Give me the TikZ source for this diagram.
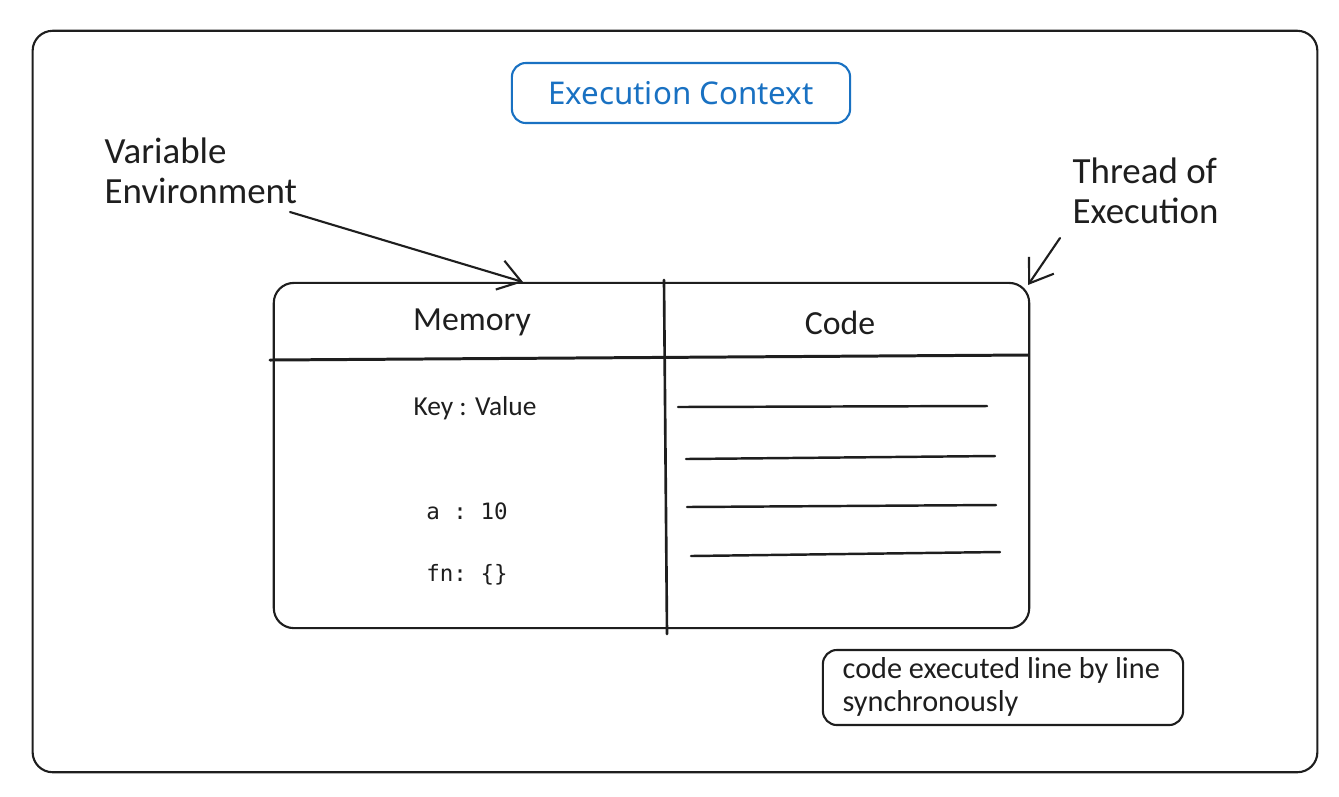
\documentclass[tikz,border=0pt]{standalone}
\usepackage{fontspec}
\setmainfont{Carlito}
\setmonofont{DejaVu Sans Mono}
\newfontfamily\titlefont{Noto Sans}
\usepackage{xcolor}
\usepackage{tikz}
\usetikzlibrary{arrows.meta,positioning}
\definecolor{ink}{HTML}{1E1E1E}
\definecolor{ecblue}{HTML}{1971C2}

\begin{document}
\begin{tikzpicture}[
    x=0.01cm, y=-0.01cm,
    line join=round, line cap=round,
    frame/.style={rectangle, draw=ink, line width=0.6pt, rounded corners=0.2cm},
    titlebox/.style={rectangle, draw=ecblue, text=ecblue, line width=0.6pt, rounded corners=0.14cm, minimum width=3.38cm, minimum height=0.6cm, font=\titlefont\fontsize{8.9}{10}\selectfont},
    note/.style={align=left, anchor=north west, inner sep=0pt, text=ink, font=\fontsize{10.5}{11.4}\selectfont},
    head/.style={text=ink, font=\fontsize{9.6}{11}\selectfont},
    entry/.style={text=ink, font=\fontsize{7.8}{9}\selectfont},
    mono/.style={text=ink, font=\ttfamily\fontsize{6.4}{8}\selectfont},
    rule/.style={draw=ink, line width=0.75pt},
    codeline/.style={draw=ink, line width=0.7pt},
    arrow/.style={-{Straight Barb[length=2.2mm, width=3mm]}, draw=ink, line width=0.6pt}
]
\useasboundingbox (0,0) rectangle (1339,796);

% outer frame and title
\node[frame, minimum width=12.84cm, minimum height=7.41cm] (frame) at (675,401.5) {};
\node[titlebox] (title) at (681,93) {Execution Context};

% memory / code table
\node[frame, minimum width=7.55cm, minimum height=3.45cm] (table) at (651.5,455.5) {};
\draw[rule] (664,280) -- (667,634);
\draw[rule, line width=0.85pt] (270,360) -- (1028,355);

\node[head] (memory) at (472,322) {Memory};
\node[head] (code) at (840,323) {Code};

\node[entry] (keyval) at (475,408) {Key : Value};
\node[mono] (aval) at (467,511) {a : 10};
\node[mono] (fnval) at (467,575) {fn: \{\}};

\foreach \xa/\ya/\xb/\yb in {678/407/987/406, 686/459/995/456, 687/507/996/505, 691/556/1000/552}
    \draw[codeline] (\xa,\ya) -- (\xb,\yb);

% annotations
\node[note] (varenv) at (104,137) {Variable\\Environment};
\node[note] (thread) at (1072,157) {Thread of\\Execution};
\node[frame, rounded corners=0.14cm, minimum width=3.6cm, minimum height=0.75cm] (syncbox) at (1003,687.5) {};
\node[align=left, anchor=west, inner sep=0pt, text=ink, font=\fontsize{8.6}{9.4}\selectfont]
      (sync) at (842,687) {code executed line by line\\synchronously};

\coordinate (veStart) at (290,212);
\coordinate (veEnd) at (523,282);
\coordinate (teStart) at (1060,238);
\coordinate (teEnd) at (1028,285);
\draw[arrow] (veStart) -- (veEnd);
\draw[arrow] (teStart) -- (teEnd);
\end{tikzpicture}
\end{document}
